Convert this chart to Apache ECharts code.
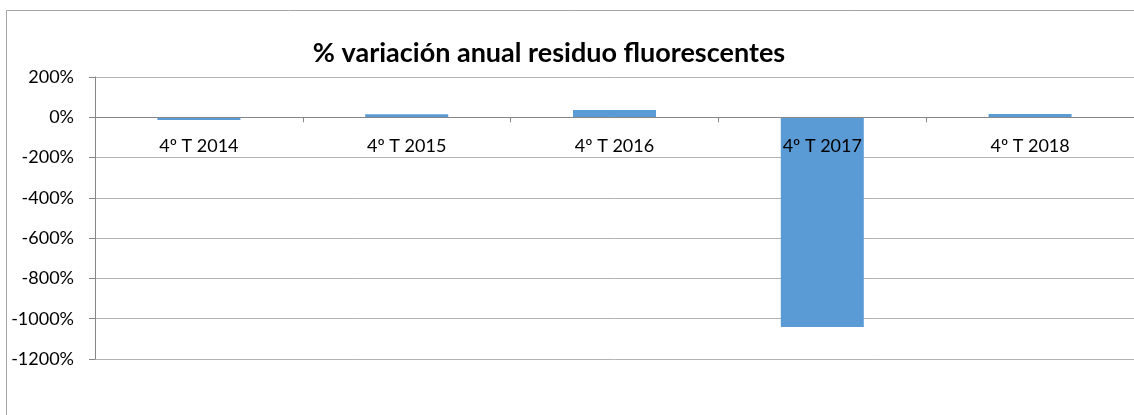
<!DOCTYPE html>
<html>
<head>
<meta charset="utf-8">
<script src="https://cdn.jsdelivr.net/npm/echarts@6/dist/echarts.min.js"></script>
<style>
  html, body { margin: 0; padding: 0; background: #fff; }
  #myChart { width: 1134px; height: 415px; }
</style>
</head>
<body>
<div id="myChart"></div>
<script>
  // datos
  const categorias = ['4º T 2014', '4º T 2015', '4º T 2016', '4º T 2017', '4º T 2018'];
  const variacion = [-13, 15, 36, -1041, 16];
  const yMin = -1200, yMax = 200, yPaso = 200;

  let myChart = echarts.init(document.getElementById('myChart'));
  myChart.setOption({
    animation: false,
    textStyle: { fontFamily: 'Lato' },
    title: {
      text: '% variación anual residuo fluorescentes',
      left: 544,
      textAlign: 'center',
      top: 35,
      textStyle: { fontSize: 27, fontWeight: 'bold', color: '#000', fontFamily: 'Lato' }
    },
    graphic: [{
      type: 'rect',
      shape: { x: 6.5, y: 10.5, width: 1200, height: 420 },
      style: { fill: 'none', stroke: '#a6a6a6', lineWidth: 1 },
      silent: true
    }],
    grid: { left: 95, right: 0, top: 77, bottom: 56 },
    xAxis: {
      type: 'category',
      data: categorias,
      z: 5,
      axisLine: { onZero: true, lineStyle: { color: '#868686', width: 1 } },
      axisTick: { show: true, length: 5, lineStyle: { color: '#868686' } },
      // etiquetas justo debajo del eje en 0
      axisLabel: { margin: -222, fontSize: 18, color: '#000' }
    },
    yAxis: {
      type: 'value',
      min: yMin,
      max: yMax,
      interval: yPaso,
      axisLine: { show: true, lineStyle: { color: '#868686' } },
      axisTick: { show: true, inside: false, length: 6, lineStyle: { color: '#868686' } },
      axisLabel: { formatter: (v) => v + '%', fontSize: 18, color: '#000', margin: 21 },
      splitLine: { lineStyle: { color: '#b3b3b3', width: 1 } }
    },
    series: [{
      type: 'bar',
      data: variacion,
      barWidth: 83,
      z: 2,
      itemStyle: { color: '#5b9bd5' }
    }]
  });
</script>
</body>
</html>
